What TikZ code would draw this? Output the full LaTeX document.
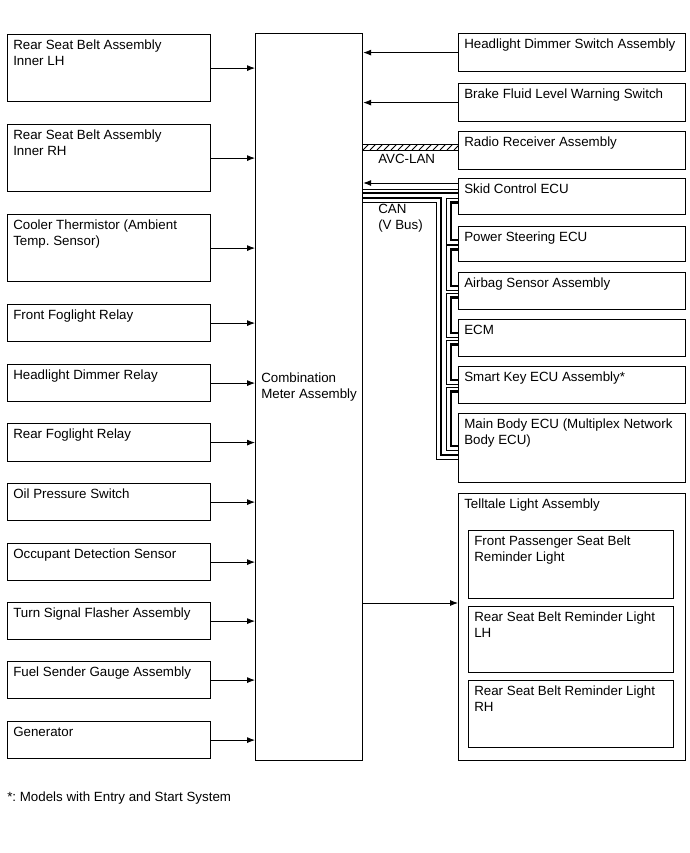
\documentclass[tikz,border=0pt]{standalone}
\usepackage{fontspec}
\setmainfont{Liberation Sans}
\usetikzlibrary{arrows.meta,calc}
\newdimen\pxu \pxu=0.75pt
\frenchspacing

\tikzset{
  blk/.style={draw, line width=0.9pt, anchor=north west, inner sep=0pt},
  txt/.style={anchor=north west, align=left, inner sep=4.5pt, font=\fontsize{10}{12}\selectfont},
  arr/.style={line width=0.6pt, -{Latex[length=6pt,width=4.5pt]}},
  canthick/.style={line width=2.1pt},
  canthin/.style={line width=0.6pt},
}

\begin{document}
\begin{tikzpicture}[x=0.75pt, y=-0.75pt]
\useasboundingbox (0,0) rectangle (689,853);

% Combination meter (centre block)
\node[blk, minimum width=107\pxu, minimum height=727\pxu] (meter) at (255,33) {};
\node[txt, anchor=west] (meterlbl) at ($(meter.west)+(0,-10)$) {Combination\\Meter Assembly};

% Inputs on the left
\foreach \i/\y/\h/\lbl in {
  1/34/67/{Rear Seat Belt Assembly\\Inner LH},
  2/124/67/{Rear Seat Belt Assembly\\Inner RH},
  3/214/67/{Cooler Thermistor (Ambient\\Temp. Sensor)},
  4/304/37/{Front Foglight Relay},
  5/364/37/{Headlight Dimmer Relay},
  6/423/38/{Rear Foglight Relay},
  7/483/37/{Oil Pressure Switch},
  8/543/37/{Occupant Detection Sensor},
  9/602/37/{Turn Signal Flasher Assembly},
  10/661/37/{Fuel Sender Gauge Assembly},
  11/721/37/{Generator}}{
  \node[blk, minimum width=203\pxu, minimum height=\h\pxu] (in\i) at (7,\y) {};
  \node[txt] at (in\i.north west) {\lbl};
  \draw[arr] (in\i.east) -- (in\i.east -| meter.west);
}

% Units on the right
\foreach \n/\y/\h/\lbl in {
  hsw/33/38/{Headlight Dimmer Switch Assembly},
  brake/83/38/{Brake Fluid Level Warning Switch},
  radio/131/38/{Radio Receiver Assembly},
  skid/178/36/{Skid Control ECU},
  ps/226/35/{Power Steering ECU},
  air/272/37/{Airbag Sensor Assembly},
  ecm/319/37/{ECM},
  skey/366/37/{Smart Key ECU Assembly*},
  mbody/413/69/{Main Body ECU (Multiplex Network\\Body ECU)},
  tell/493/267/{Telltale Light Assembly}}{
  \node[blk, minimum width=227\pxu, minimum height=\h\pxu] (\n) at (458,\y) {};
  \node[txt] at (\n.north west) {\lbl};
}

% Lights inside the telltale assembly
\foreach \n/\y/\h/\lbl in {
  tl1/530/68/{Front Passenger Seat Belt\\Reminder Light},
  tl2/606/66/{Rear Seat Belt Reminder Light\\LH},
  tl3/680/67/{Rear Seat Belt Reminder Light\\RH}}{
  \node[blk, minimum width=205\pxu, minimum height=\h\pxu] (\n) at (468,\y) {};
  \node[txt] at (\n.north west) {\lbl};
}

% Signals into and out of the meter
\draw[arr] (hsw.west) -- (hsw.west -| meter.east);
\draw[arr] (brake.west) -- (brake.west -| meter.east);
\coordinate (skidin) at ($(skid.north west)+(0,5)$);
\draw[arr] (skidin) -- (skidin -| meter.east);
\coordinate (tellin) at ($(tell.north west)+(0,110)$);
\draw[arr] (tellin -| meter.east) -- (tellin);

% AVC-LAN (hatched)
\coordinate (avc) at ($(radio.west)+(0,-6)$);
\begin{scope}
  \clip (avc -| meter.east) rectangle (radio.west);
  \foreach \x in {356,363,...,463}
    \draw[canthin] (\x,150) -- (\x+7,143);
\end{scope}
\draw[canthin] (avc -| meter.east) -- (avc);
\draw[canthin] (radio.west -| meter.east) -- (radio.west);
\node[txt, anchor=west, inner sep=0pt] (avclbl) at (378,159) {AVC-LAN};

% CAN (V Bus)
\coordinate (canA) at ($(skid.north west)+(0,11)$);
\coordinate (canB) at ($(skid.north west)+(0,15)$);
\coordinate (canC) at ($(mbody.north west)+(0,42)$);
\coordinate (canD) at ($(mbody.north west)+(0,46)$);
\draw[canthin] (canA -| meter.east) -- (canA);
\draw[canthick] (canB -| meter.east) -- (canB);
\draw[canthick] (meter.east |- 0,198) -| ($(canC)+(-17,0)$) -- (canC);
\draw[canthin] (meter.east |- 0,202) -| ($(canD)+(-22,0)$) -- (canD);
\foreach \a/\b/\e in {skid/ps/14, ps/air/14, air/ecm/14, ecm/skey/14, skey/mbody/33}{
  \draw[canthick] ($(\a.south west)+(0,-13)$) -- ++(-7,0) |- ($(\b.north west)+(0,\e)$);
  \draw[canthin] ($(\a.south west)+(0,-17)$) -- ++(-12,0) |- ($(\b.north west)+(0,\e+4)$);
}
\node[txt, inner sep=0pt] (canlbl) at (378,204) {CAN\\(V Bus)};

% Footnote
\node[txt, anchor=west, inner sep=0pt] (note) at (7,798) {*: Models with Entry and Start System};

\end{tikzpicture}
\end{document}
